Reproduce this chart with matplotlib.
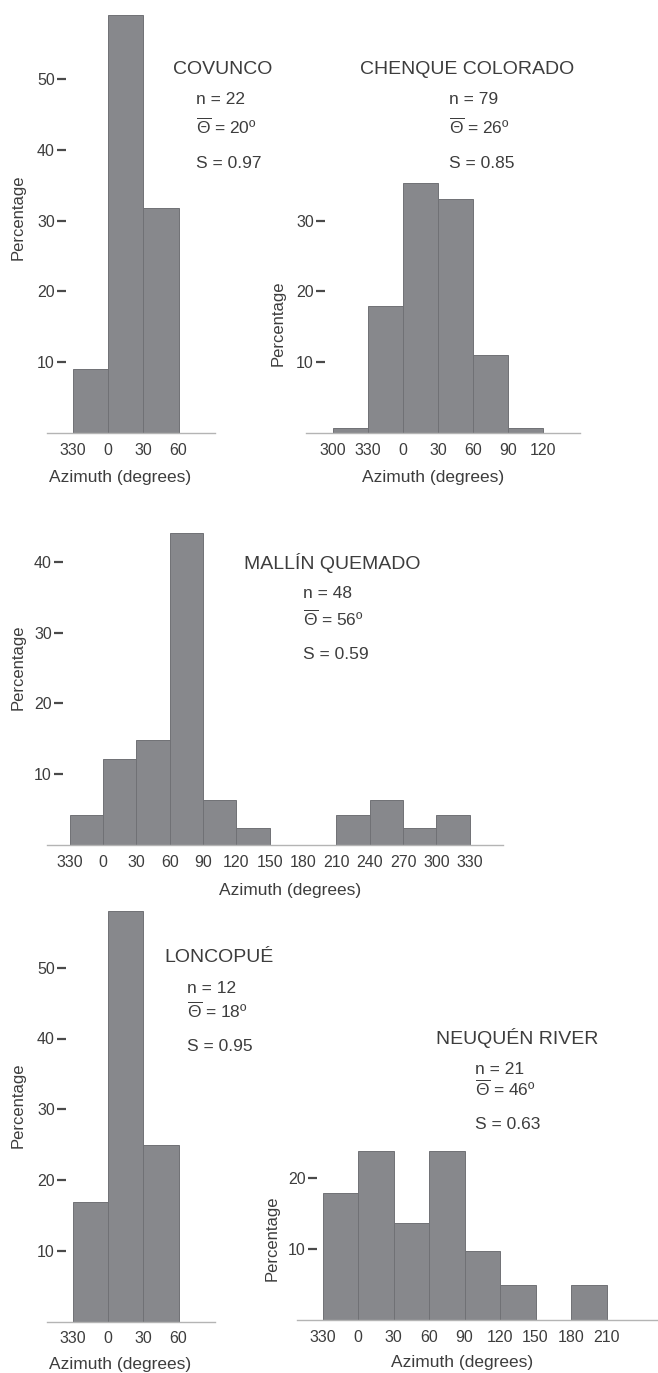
import matplotlib
matplotlib.use("Agg")
import matplotlib.pyplot as plt

plt.rcParams['font.family'] = ['Liberation Sans', 'DejaVu Sans']
plt.rcParams['mathtext.fontset'] = 'custom'
plt.rcParams['mathtext.rm'] = 'Liberation Sans'
plt.rcParams['mathtext.it'] = 'Liberation Sans:italic'

# --- data (percentage per 30 degree class) ---
covunco_ticks = ['330', '0', '30', '60']
covunco_pct = [9.1, 59.1, 31.8]
covunco_stats = (22, 20, 0.97)

chenque_ticks = ['300', '330', '0', '30', '60', '90', '120']
chenque_pct = [0.7, 17.9, 35.3, 33.0, 11.0, 0.7]
chenque_stats = (79, 26, 0.85)

mallin_ticks = ['330', '0', '30', '60', '90', '120', '150', '180',
                '210', '240', '270', '300', '330']
mallin_pct = [4.2, 12.2, 14.8, 44.0, 6.3, 2.4, 0, 0, 4.3, 6.4, 2.4, 4.2]
mallin_stats = (48, 56, 0.59)

loncopue_ticks = ['330', '0', '30', '60']
loncopue_pct = [16.9, 58.0, 25.0]
loncopue_stats = (12, 18, 0.95)

neuquen_ticks = ['330', '0', '30', '60', '90', '120', '150', '180', '210']
neuquen_pct = [17.9, 23.8, 13.7, 23.8, 9.8, 4.9, 0, 4.9]
neuquen_stats = (21, 46, 0.63)

W, H = 658, 1373
PPY = 7.08  # pixels per percent
BAR = '#87888c'
EDGE = '#707175'
TXT = '#3d3d3d'

fig = plt.figure(figsize=(W / 100, H / 100), dpi=100)


def fx(x):
    return x / W


def fy(y):
    return 1 - y / H


def panel(ticks, pct, yticks, x0, x1, edge0, ppd, base, top, spine_px):
    ax = fig.add_axes([fx(x0), fy(base), (x1 - x0) / W, (base - top) / H])
    ax.patch.set_alpha(0)
    lefts = [30 * i for i in range(len(pct))]
    ax.bar(lefts, pct, width=30, align='edge', color=BAR,
           edgecolor=EDGE, linewidth=0.7, zorder=2)
    ax.set_xlim((x0 - edge0) / ppd, (x1 - edge0) / ppd)
    ax.set_ylim(0, (base - top) / PPY)
    ax.set_xticks([30 * i for i in range(len(ticks))])
    ax.set_xticklabels(ticks)
    ax.set_yticks(yticks)
    for s in ['top', 'right']:
        ax.spines[s].set_visible(False)
    ax.spines['left'].set_position(('data', (spine_px - edge0) / ppd))
    ax.spines['left'].set_visible(False)
    ax.spines['bottom'].set_color('#b4b4b4')
    ax.spines['bottom'].set_linewidth(1.0)
    ax.tick_params(axis='x', length=0, pad=7, labelsize=11.5, labelcolor=TXT)
    ax.tick_params(axis='y', length=6.5, width=1.6, color='#4a4a4a', pad=1.5,
                   labelsize=11.5, labelcolor=TXT)
    return ax


def labels(title, tpos, stats, sx, sy, pct_pos, az_pos):
    n, mean, s = stats
    fig.text(fx(tpos[0]), fy(tpos[1]), title, ha='center', va='center',
             fontsize=14, color=TXT)
    fig.text(fx(sx), fy(sy[0] + 6), 'n = %d' % n, ha='left',
             va='baseline', fontsize=12.5, color=TXT)
    fig.text(fx(sx), fy(sy[1] + 6), r'$\overline{\Theta}$ = %dº' % mean,
             ha='left', va='baseline', fontsize=12.5, color=TXT)
    fig.text(fx(sx), fy(sy[2] + 6), 'S = %.2f' % s, ha='left',
             va='baseline', fontsize=12.5, color=TXT)
    fig.text(fx(pct_pos[0]), fy(pct_pos[1]), 'Percentage', rotation=90,
             ha='center', va='center', fontsize=12, color=TXT)
    fig.text(fx(az_pos[0]), fy(az_pos[1]), 'Azimuth (degrees)',
             ha='center', va='center', fontsize=12.5, color=TXT)


panel(covunco_ticks, covunco_pct, [10, 20, 30, 40, 50],
      47, 215, 72.7, 35.3 / 30, 433, 5, 66)
labels('COVUNCO', (223, 70), covunco_stats, 196, (98, 128, 162),
       (18, 217), (120, 477))

panel(chenque_ticks, chenque_pct, [10, 20, 30],
      306, 580, 333, 35 / 30, 433, 5, 325)
labels('CHENQUE COLORADO', (467, 70), chenque_stats, 449, (98, 128, 162),
       (278, 323), (433, 477))

panel(mallin_ticks, mallin_pct, [10, 20, 30, 40],
      47, 503, 69.7, 400 / 360, 845, 525, 63)
labels('MALLÍN QUEMADO', (332, 563), mallin_stats, 303, (592, 620, 653),
       (18, 667), (290, 890))

panel(loncopue_ticks, loncopue_pct, [10, 20, 30, 40, 50],
      47, 215, 72.7, 35.3 / 30, 1321.7, 900, 66)
labels('LONCOPUÉ', (219, 958), loncopue_stats, 187, (987, 1012, 1045),
       (18, 1105), (120, 1364))

panel(neuquen_ticks, neuquen_pct, [10, 20],
      297, 657, 322.5, 284 / 240, 1320, 1140, 317)
labels('NEUQUÉN RIVER', (517, 1038), neuquen_stats, 475, (1068, 1090, 1123),
       (272, 1238), (462, 1363))

fig.savefig('out.png', dpi=100, facecolor='white')
